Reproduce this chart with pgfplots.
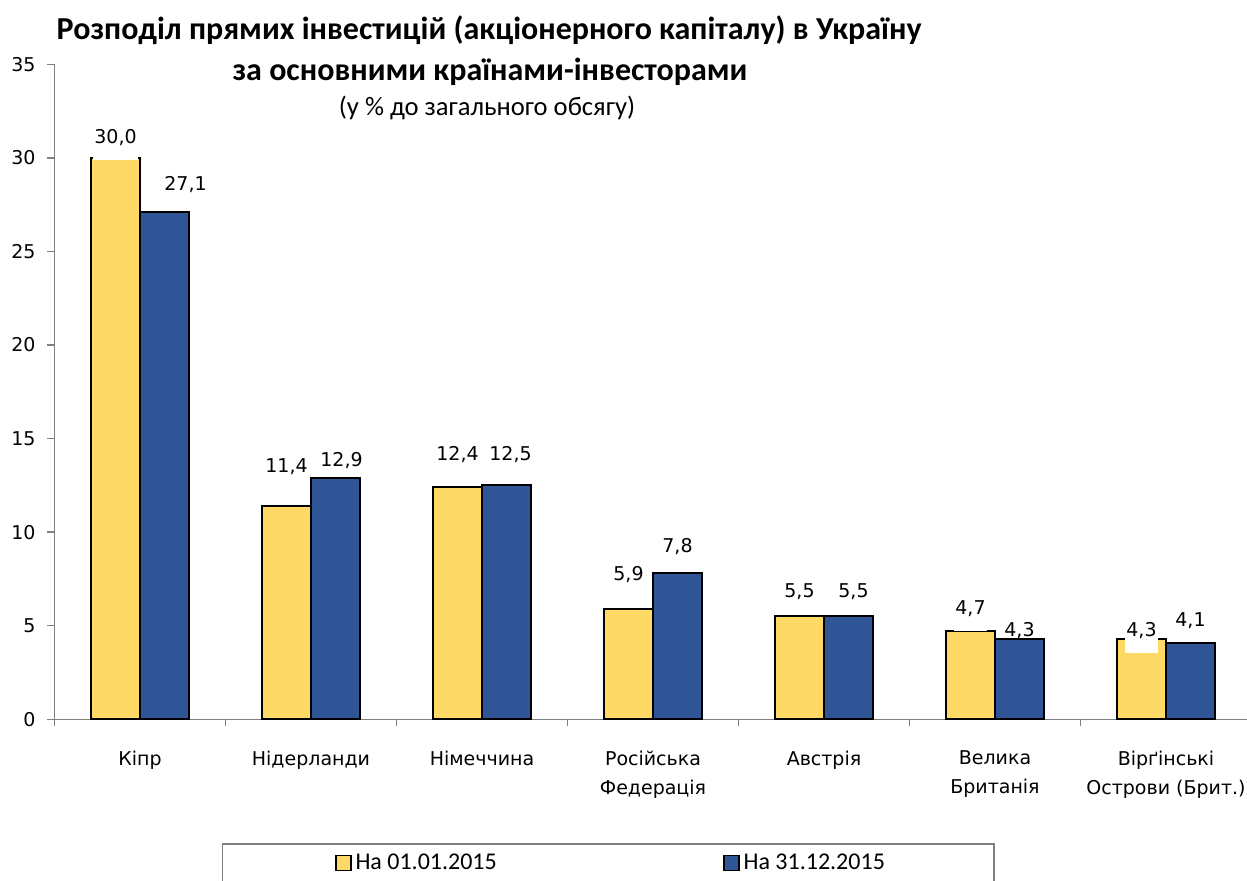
\documentclass[border=0pt]{standalone}
\usepackage{fontspec}
\setmainfont{Carlito}
\newfontfamily\dejavu{DejaVu Sans}
\usepackage{pgfplots}
\pgfplotsset{compat=1.18}
\usepackage{pgfplotstable}
\definecolor{cyellow}{RGB}{255,217,102}
\definecolor{cblue}{RGB}{47,85,151}
\definecolor{axgray}{RGB}{128,128,128}

\pgfplotstableread{
x y dy dx
0 30.0 10.3 0
1 11.4 19.85 0
2 12.4 16.45 0
3 5.9 17.3 0
4 5.5 12.55 0
5 4.7 11.5 0
6 4.3 4.25 0
}\tA
\pgfplotstableread{
x y dy dx
0 27.1 13.9 10.5
1 12.9 8.8 3
2 12.5 15.55 2
3 7.8 13.5 0
4 5.5 12.55 2.5
5 4.3 4.25 0
6 4.1 11.15 0
}\tB

\begin{document}
\begin{tikzpicture}
\useasboundingbox (-27.25pt,-80.35pt) rectangle (596.25pt,359.65pt);
\begin{axis}[
  at={(0,0)}, anchor=south west,
  scale only axis, width=598.5pt, height=327.5pt,
  xmin=-0.5, xmax=6.5, ymin=0, ymax=35,
  enlargelimits=false,
  axis x line*=bottom, axis y line*=left,
  axis line style={draw=axgray, line width=0.75pt, -},
  ytick={0,5,...,35},
  xtick={0,...,6},
  xticklabels={Кіпр, Нідерланди, Німеччина, {Російська\\Федерація}, Австрія, {Велика\\Британія}, {Вірґінські\\Острови (Брит.)}},
  minor xtick={-0.5,0.5,...,6.5},
  tick align=outside,
  major x tick style={draw=none},
  minor x tick style={draw=axgray, line width=0.75pt},
  y tick style={draw=axgray, line width=0.75pt},
  major tick length=3.5pt, minor tick length=3.5pt,
  /pgf/number format/assume math mode=true,
  yticklabel style={font=\dejavu\fontsize{9.5}{11}\selectfont, text=black, xshift=-2.5pt},
  xticklabel style={font=\dejavu\fontsize{9.5}{14.5}\selectfont, align=center, anchor=north, yshift=-8.7pt, text=black},
  ybar=0pt, bar width=24.5pt,
  legend columns=2,
  legend style={at={(axis description cs:0.1399,-0.18886)}, anchor=north west,
    draw=axgray, line width=0.75pt, font=\fontsize{12}{14}\selectfont,
    inner xsep=56pt, inner ysep=3pt},
  legend image code/.code={\draw[#1, line width=0.9pt] (0pt,-3.75pt) rectangle (7.5pt,3.75pt);},
  visualization depends on={\thisrow{dy} \as \labdy},
  visualization depends on={\thisrow{dx} \as \labdx},
  nodes near coords={\pgfmathprintnumber[fixed,fixed zerofill,precision=1,use comma,assume math mode=true]{\pgfplotspointmeta}},
  every node near coord/.append style={anchor=center, yshift=\labdy pt, xshift=\labdx pt, font=\dejavu\fontsize{9.5}{11}\selectfont, text=black},
]
\addplot[fill=cyellow, draw=black, line width=1pt,
  every node near coord/.append style={fill=white, minimum height=23pt, inner xsep=0.8pt}]
  table[x=x,y=y]{\tA};
\addlegendentry{На 01.01.2015\hspace*{111pt}}
\addplot[fill=cblue, draw=black, line width=1pt] table[x=x,y=y]{\tB};
\addlegendentry{На 31.12.2015\hspace*{-3.5pt}}
\end{axis}
\node[font=\bfseries\fontsize{16}{19}\selectfont] at (217.25pt,344.65pt) {Розподіл прямих інвестицій (акціонерного капіталу) в Україну};
\node[font=\bfseries\fontsize{16}{19}\selectfont] at (217.75pt,323.65pt) {за основними країнами-інвесторами};
\node[font=\fontsize{13.3}{16}\selectfont] at (216.25pt,305.65pt) {(у \% до загального обсягу)};
\end{tikzpicture}
\end{document}
